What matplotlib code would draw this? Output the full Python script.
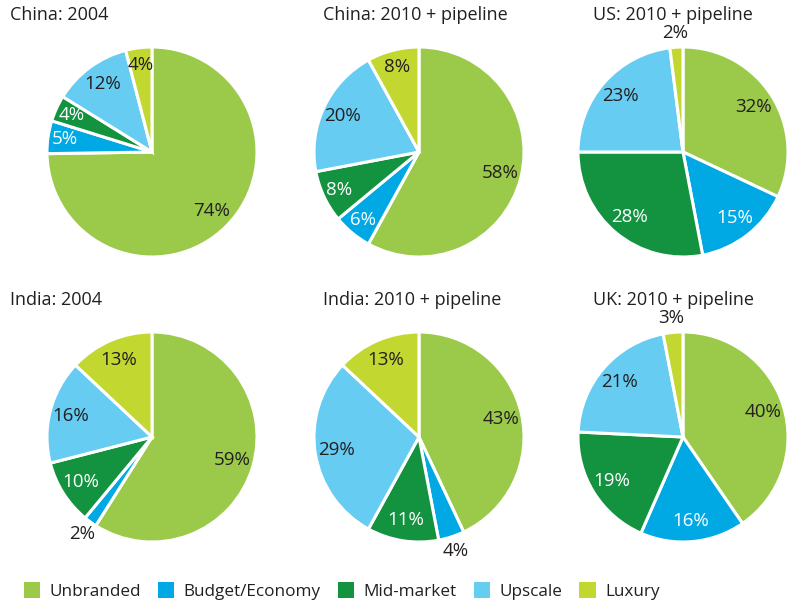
import matplotlib
matplotlib.use("Agg")
import matplotlib.pyplot as plt
from matplotlib.patches import Patch
import numpy as np

plt.rcParams.update({
    "font.family": ["Open Sans", "DejaVu Sans"],
    "font.size": 12,
    "text.color": "#231f20",
})

categories = ["Unbranded", "Budget/Economy", "Mid-market", "Upscale", "Luxury"]
colors = ["#9BCA4A", "#00A9E4", "#13923F", "#66CCF2", "#C3D731"]
label_colors = ["#231f20", "white", "white", "#231f20", "#231f20"]

titles = ["China: 2004", "China: 2010 + pipeline", "US: 2010 + pipeline",
          "India: 2004", "India: 2010 + pipeline", "UK: 2010 + pipeline"]
china_2004 = [74, 5, 4, 12, 4]
china_2010 = [58, 6, 8, 20, 8]
us_2010 = [32, 15, 28, 23, 2]
india_2004 = [59, 2, 10, 16, 13]
india_2010 = [43, 4, 11, 29, 13]
uk_2010 = [40, 16, 19, 21, 3]
shares = [china_2004, china_2010, us_2010, india_2004, india_2010, uk_2010]

# (chart, slice) whose labels sit outside the pie
outside = {(2, 4), (3, 1), (4, 1), (5, 4)}

W, H = 791, 604
fig = plt.figure(figsize=(W / 100, H / 100), dpi=100)

centers_x = [152, 419, 683]
centers_y = [152, 437]
title_x = [10, 323, 593]
R = 105

for k, (title, vals) in enumerate(zip(titles, shares)):
    row, col = divmod(k, 3)
    cx, cy = centers_x[col], centers_y[row]
    ax = fig.add_axes([(cx - R) / W, 1 - (cy + R) / H, 2 * R / W, 2 * R / H])
    wedges, _ = ax.pie(vals, colors=colors, startangle=90, counterclock=False,
                       wedgeprops=dict(edgecolor="white", linewidth=2.2))
    for j, (w, v, lc) in enumerate(zip(wedges, vals, label_colors)):
        ang = np.deg2rad((w.theta1 + w.theta2) / 2)
        if (k, j) in outside:
            r, c = 1.14, "#231f20"
        else:
            r, c = (0.8 if v >= 10 else 0.84), lc
        ax.text(r * np.cos(ang), r * np.sin(ang), f"{v}%", ha="center",
                va="center", color=c, fontsize=13.5)
    ax.set_xlim(-1, 1)
    ax.set_ylim(-1, 1)
    ax.set_aspect("equal")
    ax.axis("off")
    fig.text(title_x[col] / W, 1 - (cy - 137) / H, title, ha="left",
             va="center", fontsize=13)

handles = [Patch(facecolor=c, edgecolor="none") for c in colors]
fig.legend(handles, categories, ncol=5, frameon=False, loc="center left",
           bbox_to_anchor=(24 / W, 1 - 591 / H), handlelength=0.95,
           handleheight=1.0, handletextpad=0.55, columnspacing=1.0,
           fontsize=12.3, borderpad=0, borderaxespad=0)

fig.savefig("out.png", dpi=100)
